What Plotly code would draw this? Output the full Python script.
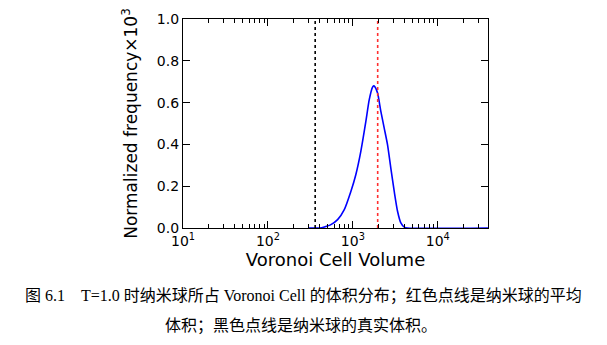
import plotly.graph_objects as go

# Voronoi cell volume distribution of nanospheres at T=1.0
volume = [300, 410, 461, 551, 661, 792, 947, 1083, 1241, 1422, 1559, 1706, 1760, 1816,
          1954, 2135, 2339, 2558, 2798, 3069, 3357, 3673, 4027, 4400, 39000]
frequency = [0.0, 0.0, 0.005, 0.016, 0.040, 0.088, 0.175, 0.255, 0.367, 0.510, 0.614,
             0.674, 0.680, 0.676, 0.646, 0.558, 0.478, 0.399, 0.287, 0.175, 0.080,
             0.024, 0.004, 0.0, 0.0]

mean_volume = 1960   # red dotted line
true_volume = 360    # black dotted line

x_tickvals = [10, 100, 1000, 10000]
x_ticktext = ["10<sup>1</sup>", "10<sup>2</sup>", "10<sup>3</sup>", "10<sup>4</sup>"]
y_tickvals = [0.0, 0.2, 0.4, 0.6, 0.8, 1.0]
# minor ticks at 2..9 within each decade
x_minor = [m * d for d in x_tickvals for m in range(2, 10)]

caption_line1 = "图 6.1　T=1.0 时纳米球所占 Voronoi Cell 的体积分布；红色点线是纳米球的平均"
caption_line2 = "体积；黑色点线是纳米球的真实体积。"

fig = go.Figure()
fig.add_trace(go.Scatter(x=volume, y=frequency, mode="lines",
                         line=dict(color="#0000ff", width=1.6, shape="spline", smoothing=0.6),
                         showlegend=False))
for xv, col in [(true_volume, "#000000"), (mean_volume, "#ff3030")]:
    fig.add_trace(go.Scatter(x=[xv, xv], y=[0, 1], mode="lines",
                             line=dict(color=col, width=1.6, dash="dot"),
                             showlegend=False))

tick_font = dict(family="DejaVu Sans", size=14, color="#000000")
fig.update_xaxes(type="log", range=[1, 4.591], tickvals=x_tickvals, ticktext=x_ticktext,
                 ticks="inside", ticklen=7, tickwidth=1, tickcolor="#000",
                 minor=dict(tickmode="array", tickvals=x_minor, ticks="inside",
                            ticklen=3.5, tickwidth=1, tickcolor="#000", showgrid=False),
                 showline=True, linecolor="#000", linewidth=1.2, mirror="allticks",
                 showgrid=False, zeroline=False, tickfont=tick_font,
                 title=dict(text="Voronoi Cell Volume",
                            font=dict(family="DejaVu Sans", size=18, color="#000"),
                            standoff=0))
fig.update_yaxes(range=[0, 1], tickvals=y_tickvals, tickformat=".1f",
                 ticks="inside", ticklen=7, tickwidth=1, tickcolor="#000",
                 showline=True, linecolor="#000", linewidth=1.2, mirror="allticks",
                 showgrid=False, zeroline=False, tickfont=tick_font,
                 title=dict(text="Normalized frequency×10<sup>3</sup>",
                            font=dict(family="DejaVu Sans", size=17, color="#000"),
                            standoff=14))

caption_font = dict(family="Liberation Serif, Noto Sans CJK SC", size=16, color="#000")
fig.add_annotation(text=caption_line1, x=(304 - 183.3) / 305, y=(228 - 296) / 209,
                   xref="paper", yref="paper", showarrow=False, font=caption_font,
                   xanchor="center", yanchor="middle")
fig.add_annotation(text=caption_line2, x=(301.5 - 183.3) / 305, y=(228 - 326) / 209,
                   xref="paper", yref="paper", showarrow=False, font=caption_font,
                   xanchor="center", yanchor="middle")

fig.update_layout(width=607, height=345, margin=dict(l=183, r=119, t=19, b=117),
                  plot_bgcolor="#fff", paper_bgcolor="#fff")
fig.write_html("out.html")
